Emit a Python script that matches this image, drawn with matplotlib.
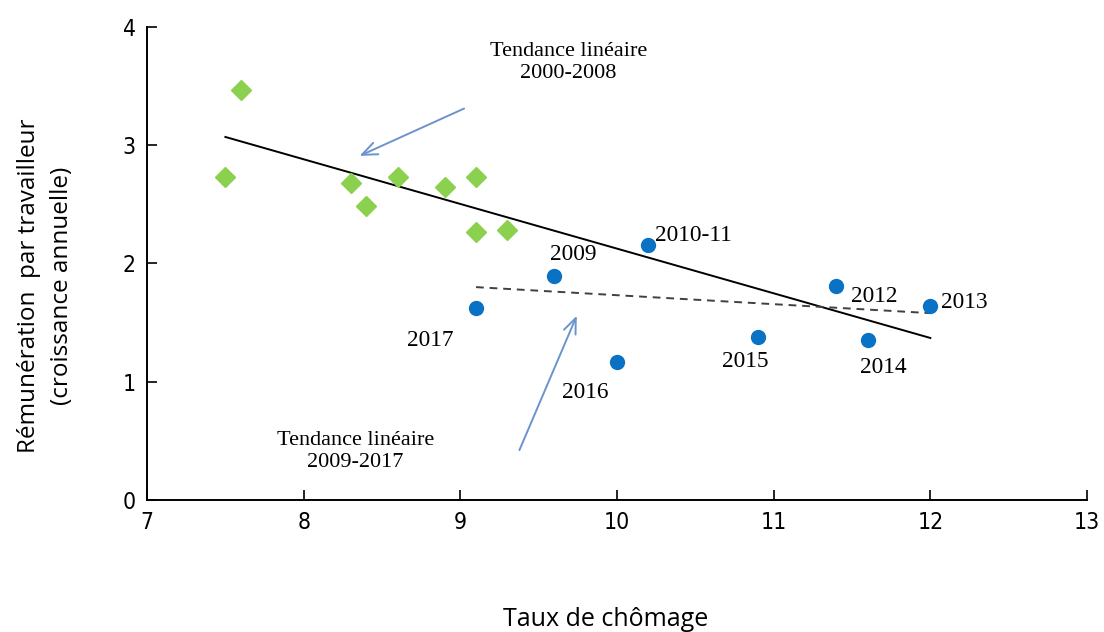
import matplotlib
matplotlib.use("Agg")
import matplotlib.pyplot as plt

# Data: 2000-2008 (green diamonds)
x_0008 = [7.5, 7.6, 8.3, 8.4, 8.6, 8.9, 9.1, 9.1, 9.3]
y_0008 = [2.73, 3.47, 2.68, 2.49, 2.73, 2.65, 2.73, 2.27, 2.28]

# Data: 2009-2017 (blue dots)
labels_0917 = ["2017", "2009", "2016", "2010-11", "2015", "2012", "2014", "2013"]
x_0917 = [9.1, 9.6, 10.0, 10.2, 10.9, 11.4, 11.6, 12.0]
y_0917 = [1.62, 1.89, 1.17, 2.16, 1.38, 1.81, 1.35, 1.64]

# Trend lines (endpoints)
trend1_x = [7.5, 12.0]
trend1_y = [3.07, 1.37]
trend2_x = [9.1, 12.0]
trend2_y = [1.80, 1.58]

x_ticks = [7, 8, 9, 10, 11, 12, 13]
y_ticks = [0, 1, 2, 3, 4]

fig = plt.figure(figsize=(11.04, 6.32), dpi=100)
ax = fig.add_axes([0.1332, 0.2089, 0.8514, 0.7484])

ax.plot(trend1_x, trend1_y, color="black", lw=1.4, zorder=2)
ax.plot(trend2_x, trend2_y, color="#404040", lw=1.4, ls=(0, (4, 3)), zorder=2)

ax.plot(x_0008, y_0008, ls="none", marker="D", ms=10.5, color="#8cd04f",
        markeredgecolor="#8cd04f", zorder=3)
ax.plot(x_0917, y_0917, ls="none", marker="o", ms=10, color="#0a72c4",
        markeredgecolor="#0a72c4", zorder=3)

serif = ["Liberation Serif", "DejaVu Serif"]
label_pos = {
    "2017": (8.81, 1.35, "center"),
    "2009": (9.72, 2.08, "center"),
    "2016": (9.80, 0.91, "center"),
    "2010-11": (10.24, 2.24, "left"),
    "2015": (10.82, 1.17, "center"),
    "2012": (11.64, 1.72, "center"),
    "2014": (11.70, 1.12, "center"),
    "2013": (12.22, 1.67, "center"),
}
for lab in labels_0917:
    px, py, ha = label_pos[lab]
    ax.text(px, py, lab, family=serif, fontsize=16.8, ha=ha, va="center")

ax.text(9.69, 3.70, "Tendance linéaire\n2000-2008", family=serif, fontsize=16,
        ha="center", va="center", linespacing=1.25)
ax.text(8.33, 0.41, "Tendance linéaire\n2009-2017", family=serif, fontsize=16,
        ha="center", va="center", linespacing=1.25)

arrow_kw = dict(arrowstyle="->,head_length=1.1,head_width=0.45", color="#6b93cc", lw=1.4)
ax.annotate("", xy=(8.34, 2.90), xytext=(9.04, 3.32), arrowprops=arrow_kw)
ax.annotate("", xy=(9.75, 1.58), xytext=(9.37, 0.40), arrowprops=arrow_kw)

ax.set_xlim(7, 13)
ax.set_ylim(0, 4)
ax.set_xticks(x_ticks)
ax.set_yticks(y_ticks)
ax.tick_params(direction="in", length=7, width=1.2, pad=8)
for lbl in ax.get_xticklabels() + ax.get_yticklabels():
    lbl.set_family("DejaVu Sans")
    lbl.set_stretch("condensed")
    lbl.set_fontsize(16.5)

for s in ["top", "right"]:
    ax.spines[s].set_visible(False)
for s in ["left", "bottom"]:
    ax.spines[s].set_linewidth(1.4)

sans = ["Open Sans", "DejaVu Sans"]
fig.text(606 / 1104, 1 - 620 / 632, "Taux de chômage", family=sans, fontsize=18,
         ha="center", va="center")
fig.text(46 / 1104, 1 - 286 / 632, "Rémunération  par travailleur\n(croissance annuelle)",
         family=sans, fontsize=17.5, ha="center", va="center", rotation=90,
         linespacing=1.5)

fig.savefig("out.png", dpi=100)
